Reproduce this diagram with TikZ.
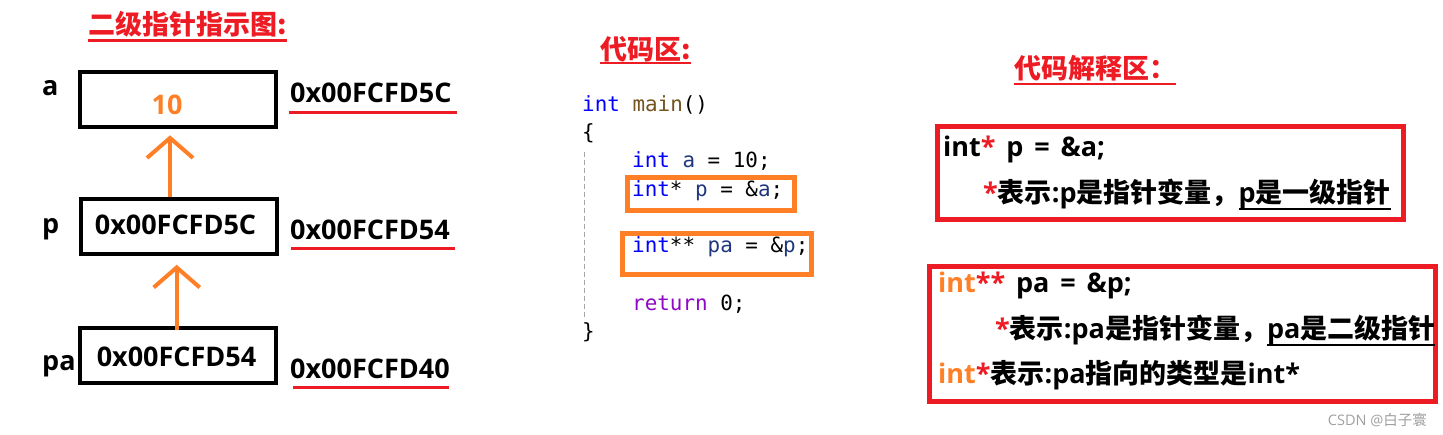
\documentclass[tikz,border=0pt]{standalone}
\usepackage{fontspec}
\setmainfont{Open Sans}
\setmonofont{DejaVu Sans Mono}
\newfontfamily\zhfont{Noto Sans CJK SC}
\usetikzlibrary{arrows.meta}
\definecolor{mred}{HTML}{ED1C24}
\definecolor{morange}{HTML}{FF7F27}
\definecolor{kwblue}{HTML}{0000FF}
\definecolor{fnbrown}{HTML}{74531F}
\definecolor{varnavy}{HTML}{1F377F}
\definecolor{retpurple}{HTML}{8F08C4}
\newcommand\zh[1]{{\zhfont #1}}
\newcommand\kw[1]{\textcolor{kwblue}{#1}}
\newcommand\vr[1]{\textcolor{varnavy}{#1}}
\newcommand\rs[1]{\textcolor{mred}{#1}}
\newcommand\os[1]{\textcolor{morange}{#1}}
\newcommand\widesp{\spaceskip=0.4em\relax}
\newsavebox\ulbox
\newcommand\ul[1]{\sbox\ulbox{#1}\rlap{\rule[-7.5pt]{\wd\ulbox}{2pt}}\usebox\ulbox}

\begin{document}
\begin{tikzpicture}[x=1pt,y=-1pt,
    bold/.style={inner sep=0pt, anchor=base west, font=\bfseries\fontsize{27}{32}\selectfont},
    wide/.style={bold, font=\bfseries\fontsize{27}{32}\selectfont\widesp},
    title/.style={bold, text=mred, font=\bfseries\zhfont\fontsize{27}{32}\selectfont},
    cell/.style={draw, line width=4pt, minimum width=196pt, minimum height=55pt, inner sep=0pt},
    ptr/.style={draw=morange, line width=4pt, -{Straight Barb[length=20pt,width=46pt]}},
    uline/.style={mred, line width=3pt},
    code/.style={inner sep=0pt, anchor=base west, font=\ttfamily\fontsize{20.9}{25}\selectfont},
    hl/.style={draw=morange, line width=5pt},
    note/.style={draw=mred, line width=5pt}]
    \useasboundingbox (0,0) rectangle (1443,435);

    % pointer chain
    \node[title] (hd1) at (88,35) {二级指针指示图:};
    \draw[uline, line width=2.5pt] ([yshift=-5.5pt]hd1.base west) -- ([yshift=-5.5pt]hd1.base east);
    \node[cell] (a) at (177.5,99.5) {};
    \node[cell] (p) at (179.3,226.3) {};
    \node[cell] (pa) at (177.5,355.5) {};
    \node[bold, text=morange, anchor=base] (va) at (167,115) {10};
    \node[bold, anchor=base] (vp) at (175.5,235) {0x00FCFD5C};
    \node[bold, anchor=base] (vpa) at (176.5,366.7) {0x00FCFD54};
    \node[bold] (na) at (42,95.7) {a};
    \node[bold] (np) at (42,233.3) {p};
    \node[bold] (npa) at (42,370.7) {pa};
    \coordinate (ax1) at (170,0);
    \coordinate (ax2) at (176.7,0);
    \draw[ptr, shorten >=6.3pt] (ax1 |- p.north) -- (ax1 |- a.south);
    \draw[ptr, shorten >=9pt, shorten <=-4pt] (ax2 |- pa.north) -- (ax2 |- p.south);
    \node[bold] (ma) at (290,102.7) {0x00FCFD5C};
    \node[bold] (mp) at (290,240) {0x00FCFD54};
    \node[bold] (mpa) at (290,378.3) {0x00FCFD40};
    \draw[uline] ([shift={(-1pt,-10pt)}]ma.base west) -- ([shift={(5pt,-10pt)}]ma.base east);
    \draw[uline] ([shift={(1pt,-8.3pt)}]mp.base west) -- ([shift={(5pt,-8.3pt)}]mp.base east);
    \draw[uline] ([shift={(3pt,-9.4pt)}]mpa.base west) -- ([shift={(-1pt,-9.4pt)}]mpa.base east);

    % code
    \node[title] (hd2) at (600,60) {代码区:};
    \draw[uline, line width=2pt] ([yshift=-3.3pt]hd2.base west) -- ([yshift=-3.3pt]hd2.base east);
    \node[code] (l1) at (582,112) {\kw{int} \textcolor{fnbrown}{main}()};
    \node[code] (l2) at (582,140) {\{};
    \node[code] (l3) at (632,168) {\kw{int} \vr{a} = 10;};
    \node[code] (l4) at (632,197) {\kw{int}* \vr{p} = \&\vr{a};};
    \node[code] (l5) at (632,253) {\kw{int}** \vr{pa} = \&\vr{p};};
    \node[code] (l6) at (632,311) {\textcolor{retpurple}{return} 0;};
    \node[code] (l7) at (582,339) {\}};
    \draw[gray!70, line width=1pt, dash pattern=on 5pt off 3pt] (584,152) -- (584,320);
    \draw[hl] (627.5,177.5) rectangle (794.5,210.5);
    \draw[hl] (622.5,233.5) rectangle (811.5,274.5);

    % explanation
    \node[title] (hd3) at (1014,79) {代码解释区：};
    \draw[uline, line width=2pt] ([yshift=-5.3pt]hd3.base west) -- ([yshift=-5.3pt]hd3.base east);
    \draw[note] (937,127) rectangle (1403,220);
    \node[wide] (e1) at (943,157) {int\rs{*} p = \&a;};
    \node[bold] (e2) at (983,203) {\rs{*}\zh{表示}:p\zh{是指针变量，}\ul{p\zh{是一级指针}}};
    \draw[note] (929.5,267) rectangle (1435,402);
    \node[wide] (e3) at (938,293) {\os{int}\rs{**} pa = \&p;};
    \node[bold] (e4) at (995,339) {\rs{*}\zh{表示}:pa\zh{是指针变量，}\ul{pa\zh{是二级指针}}};
    \node[bold] (e5) at (938,384) {\os{int}\rs{*}\zh{表示}:pa\zh{指向的类型是}int*};
    \node[inner sep=0pt, anchor=base east, text=gray!75, font=\fontsize{14.5}{16}\selectfont] (wm) at (1427,425) {CSDN @\zh{白子寰}};
\end{tikzpicture}
\end{document}
